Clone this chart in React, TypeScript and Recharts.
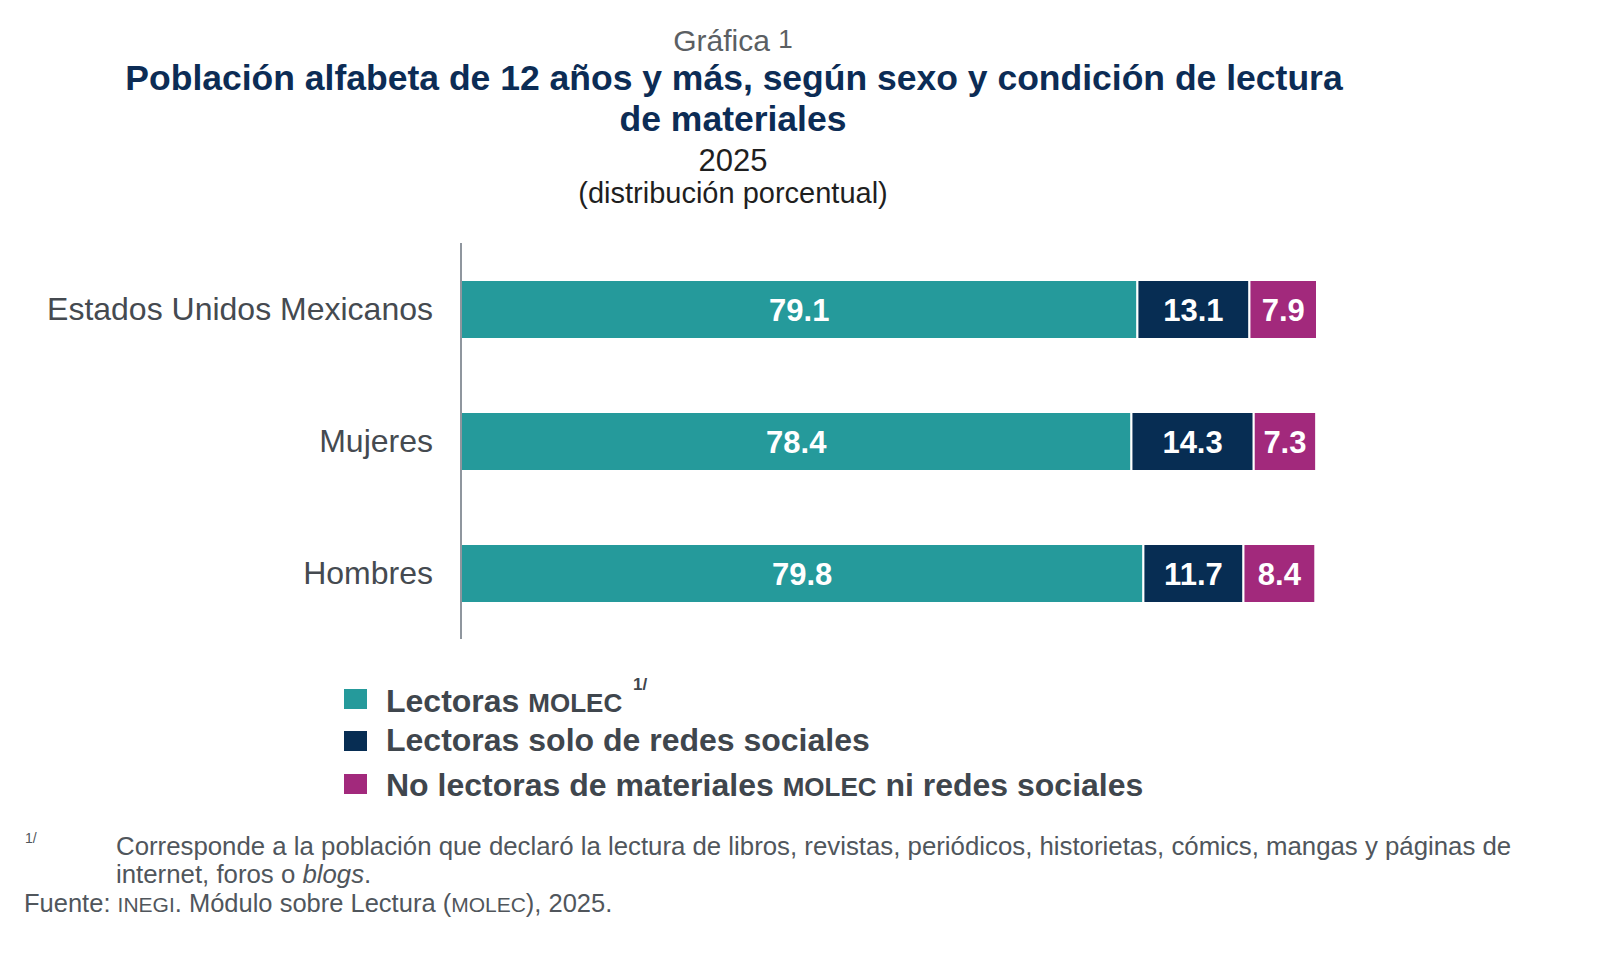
import React from "react";
import { BarChart, Bar, XAxis, YAxis, LabelList } from "recharts";

const categories = ["Estados Unidos Mexicanos", "Mujeres", "Hombres"];
const lectorasMolec = [79.1, 78.4, 79.8];
const soloRedes = [13.1, 14.3, 11.7];
const noLectoras = [7.9, 7.3, 8.4];

const series = [
  { key: "molec", color: "#259a9b" },
  { key: "redes", color: "#072d53" },
  { key: "ninguna", color: "#a2297c" },
];

const data = categories.map((name, i) => ({
  name,
  molec: lectorasMolec[i],
  redes: soloRedes[i],
  ninguna: noLectoras[i],
}));

const FONT = "'Liberation Sans', Arial, sans-serif";

export default function App() {
  return (
    <div style={{ position: "absolute", left: 0, top: 0, width: 1600, height: 954, background: "#fff", fontFamily: FONT }}>
      {/* textos: titulo, leyenda y notas */}
      <svg width={1600} height={954} style={{ position: "absolute", left: 0, top: 0 }}>
        <g fontFamily={FONT} textAnchor="middle">
          <text x={733} y={51} fontSize={30} fill="#5b5f63">
            Gráfica <tspan fontSize={26} dy={-3}>1</tspan>
          </text>
          <text x={734} y={90} fontSize={35.5} fontWeight="bold" fill="#0c2c55">
            Población alfabeta de 12 años y más, según sexo y condición de lectura
          </text>
          <text x={733} y={131} fontSize={35.5} fontWeight="bold" fill="#0c2c55">de materiales</text>
          <text x={733} y={171} fontSize={31} fill="#1f1f1f">2025</text>
          <text x={733} y={203} fontSize={29} fill="#1f1f1f">(distribución porcentual)</text>
        </g>

        <g fontFamily={FONT} fontWeight="bold" fill="#3f464d">
          <rect x={344} y={689} width={23} height={20} fill={series[0].color} />
          <text x={386} y={712} fontSize={32}>
            Lectoras <tspan fontSize={26}>MOLEC</tspan>
          </text>
          <text x={633} y={690} fontSize={17}>1/</text>
          <rect x={344} y={731} width={23} height={20} fill={series[1].color} />
          <text x={386} y={751} fontSize={32}>Lectoras solo de redes sociales</text>
          <rect x={344} y={774} width={23} height={20} fill={series[2].color} />
          <text x={386} y={796} fontSize={32}>
            No lectoras de materiales <tspan fontSize={26}>MOLEC</tspan> ni redes sociales
          </text>
        </g>

        <g fontFamily={FONT} fill="#50565c">
          <text x={25} y={843} fontSize={14}>1/</text>
          <text x={116} y={855} fontSize={25.8}>
            Corresponde a la población que declaró la lectura de libros, revistas, periódicos, historietas, cómics, mangas y páginas de
          </text>
          <text x={116} y={883} fontSize={25.8}>
            internet, foros o <tspan fontStyle="italic">blogs</tspan>.
          </text>
          <text x={24} y={912} fontSize={25.5}>
            Fuente: <tspan fontSize={21}>INEGI</tspan>. Módulo sobre Lectura (<tspan fontSize={21}>MOLEC</tspan>), 2025.
          </text>
        </g>
      </svg>

      <div style={{ position: "absolute", left: 0, top: 0 }}>
        <BarChart
          width={1600}
          height={700}
          data={data}
          layout="vertical"
          margin={{ top: 243, right: 283, bottom: 61, left: 0 }}
          barCategoryGap={0}
        >
          <XAxis type="number" domain={[0, 100]} hide />
          <YAxis
            type="category"
            dataKey="name"
            width={461}
            axisLine={{ stroke: "#8f969e", strokeWidth: 2 }}
            tickLine={false}
            tickSize={0}
            tickMargin={28}
            tick={{ fill: "#454a50", fontSize: 32, fontFamily: FONT }}
          />
          {series.map(s => (
            <Bar
              key={s.key}
              dataKey={s.key}
              stackId="a"
              fill={s.color}
              stroke="#fff"
              strokeWidth={2}
              barSize={59}
              isAnimationActive={false}
            >
              <LabelList
                dataKey={s.key}
                position="center"
                fill="#fff"
                fontSize={31}
                fontWeight="bold"
                fontFamily={FONT}
                formatter={(v: number) => v.toFixed(1)}
              />
            </Bar>
          ))}
        </BarChart>
      </div>
    </div>
  );
}
